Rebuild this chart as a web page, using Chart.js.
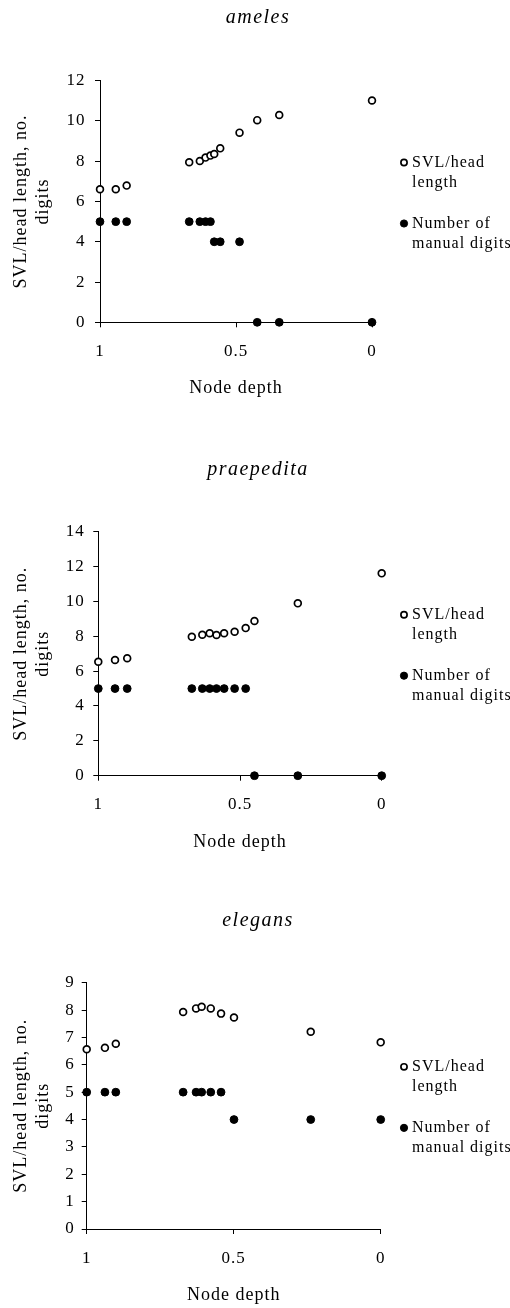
<!DOCTYPE html>
<html>
<head>
<meta charset="utf-8">
<title>Node depth plots</title>
<script src="https://cdn.jsdelivr.net/npm/chart.js@4.4.0/dist/chart.umd.min.js"></script>
<style>
    body { margin: 0; background: #fff; }
    .panel { position: relative; width: 510px; }
</style>
</head>
<body>
<div class="panel" style="height:430px"><canvas id="chart_ameles"></canvas></div>
<div class="panel" style="height:430px"><canvas id="chart_praepedita"></canvas></div>
<div class="panel" style="height:448px"><canvas id="chart_elegans"></canvas></div>

<script>
// --- ameles ---
const amelesDepth  = [1, 0.942, 0.902, 0.672, 0.633, 0.612, 0.594, 0.58, 0.558, 0.487, 0.422, 0.341, 0];
const amelesSvl    = [6.61, 6.61, 6.79, 7.95, 8.01, 8.18, 8.28, 8.36, 8.64, 9.42, 10.04, 10.3, 11.02];
const amelesDigits = [5, 5, 5, 5, 5, 5, 5, 4, 4, 4, 0, 0, 0];

// --- praepedita ---
const praepeditaDepth  = [1, 0.941, 0.898, 0.670, 0.633, 0.607, 0.583, 0.556, 0.519, 0.480, 0.449, 0.296, 0];
const praepeditaSvl    = [6.54, 6.64, 6.74, 7.97, 8.09, 8.17, 8.07, 8.17, 8.26, 8.47, 8.88, 9.89, 11.61];
const praepeditaDigits = [5, 5, 5, 5, 5, 5, 5, 5, 5, 5, 0, 0, 0];

// --- elegans ---
const elegansDepth  = [1, 0.938, 0.901, 0.672, 0.628, 0.609, 0.578, 0.543, 0.499, 0.238, 0];
const elegansSvl    = [6.57, 6.62, 6.77, 7.93, 8.06, 8.12, 8.06, 7.87, 7.73, 7.21, 6.82];
const elegansDigits = [5, 5, 5, 5, 5, 5, 5, 5, 4, 4, 4];

// axis / legend text
const xTitle = 'Node depth';
const yTitle = ['SVL/head length, no.', 'digits'];
const legendLines = [['SVL/head', 'length'], ['Number of', 'manual digits']];

const serif = '"Liberation Serif", "Times New Roman", serif';
Chart.defaults.font.family = serif;
Chart.defaults.color = '#000';

// Letter spacing for all text, species name centred on the page,
// and the two-line legend on the right
const panelDecor = {
    id: 'panelDecor',
    beforeDraw(chart) {
        chart.ctx.letterSpacing = '1px';
    },
    afterDraw(chart, args, opts) {
        const ctx = chart.ctx;
        const area = chart.chartArea;
        const midY = (area.top + area.bottom) / 2;
        const x = chart.width - 106;

        ctx.save();
        ctx.fillStyle = '#000';
        ctx.textBaseline = 'middle';

        // species name
        ctx.letterSpacing = '1.5px';
        ctx.textAlign = 'center';
        ctx.font = 'italic 20px ' + serif;
        ctx.fillText(opts.name, chart.width / 2 + 3, opts.nameY);

        // legend
        ctx.letterSpacing = '1px';
        ctx.font = '16px ' + serif;
        ctx.textAlign = 'left';
        chart.data.datasets.forEach((ds, i) => {
            const y = midY - 39 + i * 61;
            ctx.beginPath();
            ctx.arc(x, y, ds.pointRadius - 0.3, 0, Math.PI * 2);
            ctx.fillStyle = ds.pointBackgroundColor;
            ctx.fill();
            ctx.lineWidth = ds.pointBorderWidth;
            ctx.strokeStyle = ds.pointBorderColor;
            ctx.stroke();

            ctx.fillStyle = '#000';
            legendLines[i].forEach((line, j) => ctx.fillText(line, x + 8, y + j * 20));
        });
        ctx.restore();
        ctx.letterSpacing = '0px';
    }
};

function makeChart(canvasId, name, depth, svl, digits, yMax, yStep, L) {
    const toPoints = (vals) => depth.map((d, i) => ({ x: d, y: vals[i] }));

    return new Chart(document.getElementById(canvasId), {
        type: 'scatter',
        data: {
            datasets: [{
                label: 'SVL/head length',
                data: toPoints(svl),
                pointRadius: 3.4,
                pointHoverRadius: 3.4,
                pointBorderWidth: 1.7,
                pointBorderColor: '#000',
                pointBackgroundColor: '#fff',
                clip: false
            }, {
                label: 'Number of manual digits',
                data: toPoints(digits),
                pointRadius: 3.9,
                pointHoverRadius: 3.9,
                pointBorderWidth: 1,
                pointBorderColor: '#000',
                pointBackgroundColor: '#000',
                clip: false
            }]
        },
        options: {
            responsive: true,
            maintainAspectRatio: false,
            animation: false,
            layout: { padding: { left: 0, right: L.right, top: L.top, bottom: 0 } },
            plugins: {
                legend: { display: false },
                tooltip: { enabled: false },
                title: { display: false },
                panelDecor: { name: name, nameY: L.nameY }
            },
            scales: {
                x: {
                    type: 'linear',
                    min: 0,
                    max: 1,
                    reverse: true,
                    ticks: {
                        stepSize: 0.5,
                        maxRotation: 0,
                        padding: L.xTickPad,
                        font: { size: 17 },
                        callback: (v) => String(v)
                    },
                    grid: { drawOnChartArea: false, drawTicks: true, tickLength: 5, color: '#000' },
                    border: { color: '#000', width: 1 },
                    title: {
                        display: true,
                        text: xTitle,
                        font: { size: 18 },
                        padding: { top: 0, bottom: L.xTitleBottom }
                    },
                    afterFit: (scale) => { scale.height = L.xHeight; }
                },
                y: {
                    min: 0,
                    max: yMax,
                    ticks: { stepSize: yStep, padding: L.yTickPad, font: { size: 17 } },
                    grid: { drawOnChartArea: false, drawTicks: true, tickLength: 5, color: '#000' },
                    border: { color: '#000', width: 1 },
                    title: {
                        display: true,
                        text: yTitle,
                        font: { size: 18, lineHeight: 1.2 },
                        padding: { top: 10.7, bottom: 0 }
                    },
                    afterFit: (scale) => { scale.width = L.yWidth; }
                }
            }
        },
        plugins: [panelDecor]
    });
}

makeChart('chart_ameles', 'ameles', amelesDepth, amelesSvl, amelesDigits, 12, 2, {
    right: 138, top: 80.7, nameY: 17.5,
    yWidth: 100, yTickPad: 9.5,
    xHeight: 107.7, xTickPad: 14.5, xTitleBottom: 31.2
});

makeChart('chart_praepedita', 'praepedita', praepeditaDepth, praepeditaSvl, praepeditaDigits, 14, 2, {
    right: 128.3, top: 101.7, nameY: 39.5,
    yWidth: 98.3, yTickPad: 8.5,
    xHeight: 84.3, xTickPad: 14.1, xTitleBottom: 6.9
});

makeChart('chart_elegans', 'elegans', elegansDepth, elegansSvl, elegansDigits, 9, 1, {
    right: 129.3, top: 122.7, nameY: 61,
    yWidth: 86.7, yTickPad: 7,
    xHeight: 79, xTickPad: 14.1, xTitleBottom: 2.2
});
</script>
</body>
</html>
